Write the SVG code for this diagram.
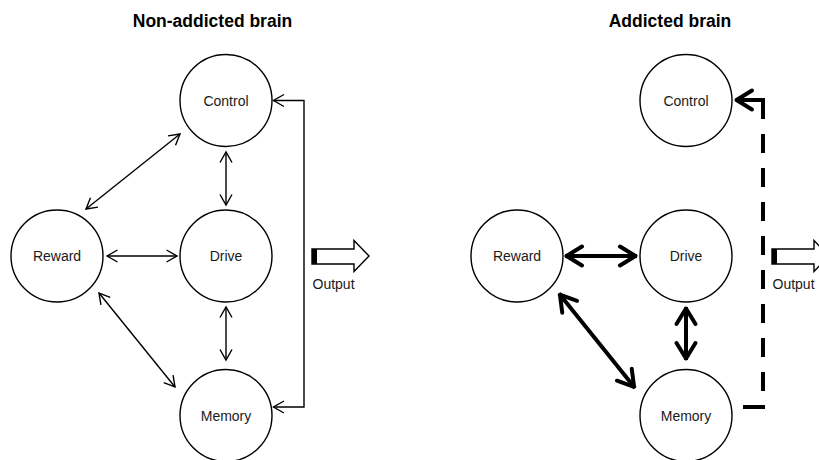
<svg xmlns="http://www.w3.org/2000/svg" width="819" height="460" viewBox="0 0 819 460">
  <style>
    .node circle { fill: #ffffff; stroke: #000000; stroke-width: 1.4; }
    .label { font-family: "Liberation Sans", Arial, Helvetica, sans-serif; font-size: 14px; fill: #1a1a1a; text-anchor: middle; }
    .title { font-family: "Liberation Sans", Arial, Helvetica, sans-serif; font-size: 17.5px; font-weight: bold; fill: #000000; text-anchor: middle; }
    .out-label { font-family: "Liberation Sans", Arial, Helvetica, sans-serif; font-size: 14px; fill: #1a1a1a; }
    .thin { fill: none; stroke: #000000; stroke-width: 1.4; marker-start: url(#thinHead); marker-end: url(#thinHead); }
    .thick { fill: none; stroke: #000000; stroke-width: 4; marker-start: url(#thickHead); marker-end: url(#thickHead); }
    .dashed { fill: none; stroke: #000000; stroke-width: 4; stroke-dasharray: 22 14 19 15 19 15 19 15 19 15 19 15 19 15 19 15 19 15 46 10; marker-end: url(#thickHead); }
    .output { fill: #ffffff; stroke: #000000; stroke-width: 1.4; }
  </style>
  <defs>
    <marker id="thinHead" markerUnits="userSpaceOnUse" viewBox="-14 -9 16 18" markerWidth="16" markerHeight="18" refX="0" refY="0" orient="auto-start-reverse" overflow="visible">
      <path d="M -10.5,-6 L 0,0 L -10.5,6" fill="none" stroke="#000000" stroke-width="1.4"/>
    </marker>
    <marker id="thickHead" markerUnits="userSpaceOnUse" viewBox="-22 -13 26 26" markerWidth="26" markerHeight="26" refX="0" refY="0" orient="auto-start-reverse" overflow="visible">
      <path d="M -17,-9.5 L -1.5,0 L -17,9.5" fill="none" stroke="#000000" stroke-width="4" stroke-linejoin="round" stroke-linecap="round"/>
    </marker>
  </defs>

  <rect x="0" y="0" width="819" height="460" fill="#ffffff"/>

  <text class="title" x="212.5" y="27">Non-addicted brain</text>
  <text class="title" x="670" y="27">Addicted brain</text>

  <!-- Left panel nodes -->
  <g id="left-control" class="node">
    <circle cx="226" cy="100.5" r="46"/>
    <text class="label" x="226" y="105.5">Control</text>
  </g>
  <g id="left-reward" class="node">
    <circle cx="57" cy="256" r="46"/>
    <text class="label" x="57" y="261">Reward</text>
  </g>
  <g id="left-drive" class="node">
    <circle cx="226" cy="256" r="46"/>
    <text class="label" x="226" y="261">Drive</text>
  </g>
  <g id="left-memory" class="node">
    <circle cx="226" cy="415.5" r="46"/>
    <text class="label" x="226" y="421">Memory</text>
  </g>

  <!-- Right panel nodes -->
  <g id="right-control" class="node">
    <circle cx="686" cy="100.5" r="46"/>
    <text class="label" x="686" y="105.5">Control</text>
  </g>
  <g id="right-reward" class="node">
    <circle cx="517" cy="256" r="46"/>
    <text class="label" x="517" y="261">Reward</text>
  </g>
  <g id="right-drive" class="node">
    <circle cx="686" cy="256" r="46"/>
    <text class="label" x="686" y="261">Drive</text>
  </g>
  <g id="right-memory" class="node">
    <circle cx="686" cy="415.5" r="46"/>
    <text class="label" x="686" y="421">Memory</text>
  </g>

  <!-- Output arrows -->
  <g id="left-output">
    <path class="output" d="M 312,249 H 354 V 240.5 L 369,256 L 354,271.5 V 264 H 312 Z"/>
    <rect x="312" y="249" width="5" height="15" fill="#000000"/>
    <text class="out-label" x="312.5" y="289">Output</text>
  </g>
  <g id="right-output">
    <path class="output" d="M 772,249 H 814 V 240.5 L 829,256 L 814,271.5 V 264 H 772 Z"/>
    <rect x="772" y="249" width="5" height="15" fill="#000000"/>
    <text class="out-label" x="772.5" y="289">Output</text>
  </g>

  <!-- Connectors -->
  <g id="connectors">
    <line class="thin" x1="180" y1="134" x2="86" y2="209"/>
    <line class="thin" x1="226" y1="152" x2="226" y2="205"/>
    <line class="thin" x1="107" y1="256" x2="177" y2="256"/>
    <line class="thin" x1="99" y1="293" x2="175" y2="387"/>
    <line class="thin" x1="226" y1="307" x2="226" y2="360"/>
    <path class="thin" d="M 273.5,407 H 304 V 100.5 H 273.5"/>

    <line class="thick" x1="565" y1="256" x2="637" y2="256"/>
    <line class="thick" x1="686" y1="307" x2="686" y2="360"/>
    <line class="thick" x1="559" y1="293.5" x2="635" y2="388"/>
    <path class="dashed" d="M 743,407 H 763 V 100 H 735"/>
  </g>
</svg>
